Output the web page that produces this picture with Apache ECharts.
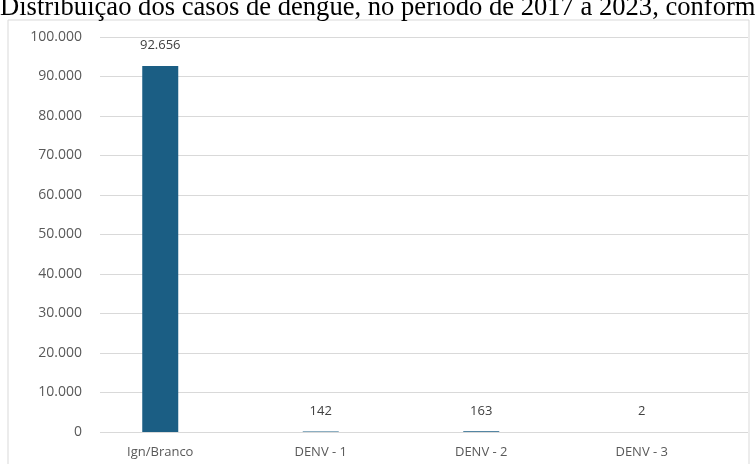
<!DOCTYPE html>
<html>
<head>
<meta charset="utf-8">
<script src="https://cdn.jsdelivr.net/npm/echarts@6/dist/echarts.min.js"></script>
<style>
  html, body { margin: 0; padding: 0; background: #fff; }
  #chart { width: 755px; height: 464px; }
</style>
</head>
<body>
<div id="chart"></div>
<script>
// Dengue cases by serotype, 2017–2023
const categories = ['Ign/Branco', 'DENV - 1', 'DENV - 2', 'DENV - 3'];
const cases = [92656, 142, 163, 2];
const yTicks = [0, 10000, 20000, 30000, 40000, 50000, 60000, 70000, 80000, 90000, 100000];

const titleText = 'Distribuição dos casos de dengue, no período de 2017 a 2023, conforme sorotipo';

function fmt(v) {
  return String(v).replace(/\B(?=(\d{3})+(?!\d))/g, '.');
}

const yMin = yTicks[0];
const yMax = yTicks[yTicks.length - 1];
const yStep = yTicks[1] - yTicks[0];

const labelFont = '"Open Sans", Lato, sans-serif';

const chart = echarts.init(document.getElementById('chart'), null, { renderer: 'canvas' });

chart.setOption({
  animation: false,
  backgroundColor: '#ffffff',
  graphic: [
    {
      type: 'rect',
      shape: { x: 8, y: 20, width: 741, height: 460 },
      style: { fill: 'none', stroke: '#d9d9d9', lineWidth: 1 },
      silent: true
    },
    {
      type: 'text',
      x: 0,
      y: -5,
      style: {
        text: titleText,
        font: '26.6px "Liberation Serif", "Times New Roman", serif',
        fill: '#000000'
      }
    }
  ],
  grid: [
    // value scale with gridlines
    { left: 100, right: 7, top: 37, bottom: 32, containLabel: false },
    // category bands for the bars
    { left: 80, right: 33, top: 37, bottom: 32, containLabel: false }
  ],
  xAxis: [
    { gridIndex: 0, type: 'value', show: false },
    {
      gridIndex: 1,
      type: 'category',
      data: categories,
      axisLine: { show: false },
      axisTick: { show: false },
      axisLabel: {
        color: '#595959',
        fontFamily: labelFont,
        fontSize: 13,
        margin: 14
      }
    }
  ],
  yAxis: [
    {
      gridIndex: 0,
      type: 'value',
      min: yMin,
      max: yMax,
      interval: yStep,
      axisLine: { show: false },
      axisTick: { show: false },
      axisLabel: {
        color: '#595959',
        fontFamily: labelFont,
        fontSize: 14,
        margin: 18,
        formatter: fmt
      },
      splitLine: { lineStyle: { color: '#d9d9d9', width: 1 } }
    },
    {
      gridIndex: 1,
      type: 'value',
      min: yMin,
      max: yMax,
      interval: yStep,
      show: false,
      splitLine: { show: false }
    }
  ],
  series: [
    {
      type: 'bar',
      xAxisIndex: 1,
      yAxisIndex: 1,
      data: cases,
      barWidth: 36,
      itemStyle: { color: '#1b5e84' },
      label: {
        show: true,
        position: 'top',
        distance: 14,
        color: '#404040',
        fontFamily: labelFont,
        fontSize: 13,
        formatter: p => fmt(p.value)
      }
    }
  ]
});
</script>
</body>
</html>
